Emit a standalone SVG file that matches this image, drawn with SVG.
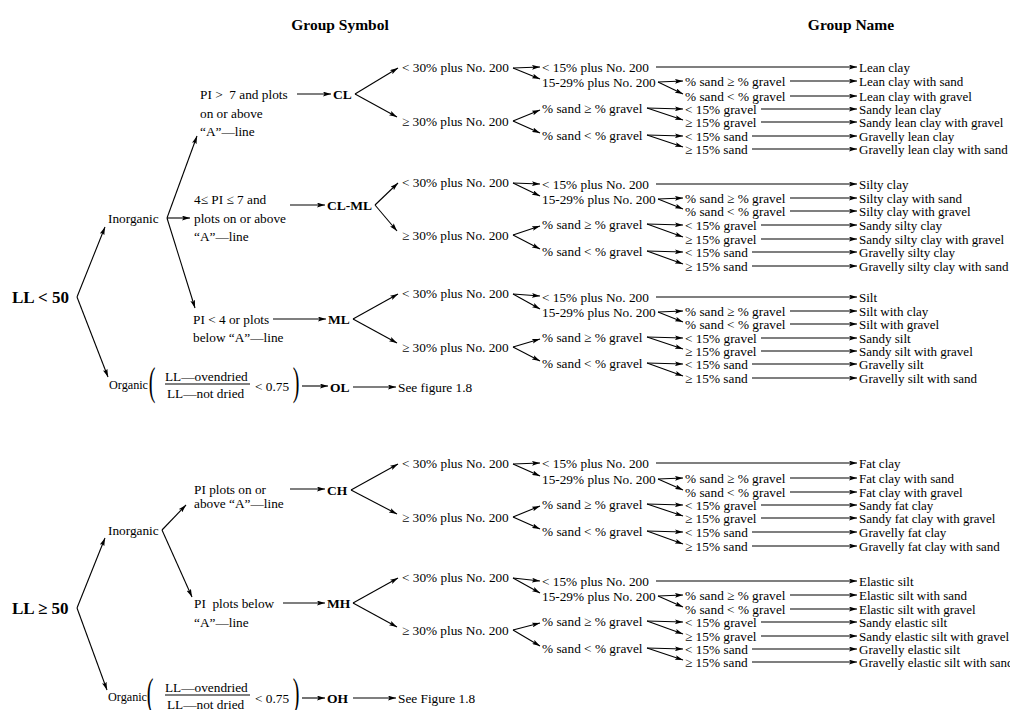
<svg xmlns="http://www.w3.org/2000/svg" width="1010" height="710" viewBox="0 0 1010 710">
<style>
text{font-family:"Liberation Serif","Times New Roman",serif;fill:#000}
.t{font-size:13.3px;dominant-baseline:central}
.n{font-size:13px;dominant-baseline:central}
.o{font-size:12.2px;dominant-baseline:central}
.b{font-size:13.5px;font-weight:bold;dominant-baseline:central}
.h{font-size:15.5px;font-weight:bold;dominant-baseline:central;text-anchor:middle}
.L{font-size:17px;font-weight:bold;dominant-baseline:central}
.p{font-size:40px;text-anchor:middle}
.c line{stroke:#000;stroke-width:1.1;fill:none;marker-end:url(#a)}
.bar{stroke:#000;stroke-width:1.1}
</style>
<defs>
<marker id="a" viewBox="0 0 10 6" refX="10" refY="3" markerWidth="8" markerHeight="5" markerUnits="userSpaceOnUse" orient="auto"><path d="M0,0 L10,3 L0,6 L2,3 z" fill="#000"/></marker>
</defs>
<rect width="1010" height="710" fill="#fff"/>

<g id="headers">
<text class="h" x="340" y="24">Group Symbol</text>
<text class="h" x="851" y="24">Group Name</text>
</g>

<!-- LL < 50 tree -->
<g id="ll-lt-50"><text class="L" x="12" y="297">LL &lt; 50</text></g>
<g id="inorganic-1"><text class="t" x="108" y="218">Inorganic</text></g>
<g id="cond-cl">
<text class="t" x="200" y="94">PI &gt;&#160; 7 and plots</text>
<text class="t" x="200" y="113">on or above</text>
<text class="t" x="200" y="131">“A”—line</text>
</g>
<g id="cond-clml">
<text class="t" x="194" y="199">4≤ PI ≤ 7 and</text>
<text class="t" x="194" y="218">plots on or above</text>
<text class="t" x="194" y="236">“A”—line</text>
</g>
<g id="cond-ml">
<text class="t" x="193" y="319">PI &lt; 4 or plots</text>
<text class="t" x="193" y="337">below “A”—line</text>
</g>
<g id="organic-1">
<text class="o" x="109" y="385">Organic</text>
<text class="p" transform="translate(152,395) scale(0.5,1)">(</text>
<text class="t" x="165" y="376">LL—ovendried</text>
<line class="bar" x1="165" y1="384" x2="250" y2="384"/>
<text class="t" x="167" y="393">LL—not dried</text>
<text class="t" x="255" y="386">&lt; 0.75</text>
<text class="p" transform="translate(296,395) scale(0.5,1)">)</text>
</g>
<g id="sym-cl"><text class="b" x="333" y="94">CL</text></g>
<g id="sym-clml"><text class="b" x="327" y="205">CL-ML</text></g>
<g id="sym-ml"><text class="b" x="328" y="319">ML</text></g>
<g id="sym-ol"><text class="b" x="330" y="387">OL</text></g>
<g id="see-ol"><text class="t" x="398" y="387">See figure 1.8</text></g>

<!-- LL >= 50 tree -->
<g id="ll-ge-50"><text class="L" x="12" y="608">LL ≥ 50</text></g>
<g id="inorganic-2"><text class="t" x="108" y="530">Inorganic</text></g>
<g id="cond-ch">
<text class="t" x="194" y="489">PI plots on or</text>
<text class="t" x="194" y="503">above “A”—line</text>
</g>
<g id="cond-mh">
<text class="t" x="194" y="603">PI&#160; plots below</text>
<text class="t" x="194" y="622">“A”—line</text>
</g>
<g id="organic-2">
<text class="o" x="108" y="697">Organic</text>
<text class="p" transform="translate(150,706) scale(0.5,1)">(</text>
<text class="t" x="165" y="687">LL—ovendried</text>
<line class="bar" x1="165" y1="695" x2="250" y2="695"/>
<text class="t" x="167" y="704">LL—not dried</text>
<text class="t" x="255" y="698">&lt; 0.75</text>
<text class="p" transform="translate(296,706) scale(0.5,1)">)</text>
</g>
<g id="sym-ch"><text class="b" x="327" y="490">CH</text></g>
<g id="sym-mh"><text class="b" x="327" y="603">MH</text></g>
<g id="sym-oh"><text class="b" x="327" y="698">OH</text></g>
<g id="see-oh"><text class="t" x="398" y="698">See Figure 1.8</text></g>

<!-- CL block -->
<g id="cl-fines">
<text class="t" x="402" y="67">&lt; 30% plus No. 200</text>
<text class="t" x="402" y="121">≥ 30% plus No. 200</text>
<text class="t" x="542" y="67">&lt; 15% plus No. 200</text>
<text class="t" x="542" y="82">15-29% plus No. 200</text>
<text class="t" x="542" y="108">% sand ≥ % gravel</text>
<text class="t" x="542" y="135">% sand &lt; % gravel</text>
<text class="t" x="685" y="81">% sand ≥ % gravel</text>
<text class="t" x="685" y="96">% sand &lt; % gravel</text>
<text class="t" x="685" y="109">&lt; 15% gravel</text>
<text class="t" x="685" y="122">≥ 15% gravel</text>
<text class="t" x="685" y="136">&lt; 15% sand</text>
<text class="t" x="685" y="149">≥ 15% sand</text>
</g>
<g id="cl-names">
<text class="n" x="859" y="67">Lean clay</text>
<text class="n" x="859" y="81">Lean clay with sand</text>
<text class="n" x="859" y="96">Lean clay with gravel</text>
<text class="n" x="859" y="109">Sandy lean clay</text>
<text class="n" x="859" y="122">Sandy lean clay with gravel</text>
<text class="n" x="859" y="136">Gravelly lean clay</text>
<text class="n" x="859" y="149">Gravelly lean clay with sand</text>
</g>

<!-- CL-ML block -->
<g id="clml-fines">
<text class="t" x="402" y="182">&lt; 30% plus No. 200</text>
<text class="t" x="402" y="235">≥ 30% plus No. 200</text>
<text class="t" x="542" y="184">&lt; 15% plus No. 200</text>
<text class="t" x="542" y="199">15-29% plus No. 200</text>
<text class="t" x="542" y="224">% sand ≥ % gravel</text>
<text class="t" x="542" y="251">% sand &lt; % gravel</text>
<text class="t" x="685" y="198">% sand ≥ % gravel</text>
<text class="t" x="685" y="211">% sand &lt; % gravel</text>
<text class="t" x="685" y="225">&lt; 15% gravel</text>
<text class="t" x="685" y="239">≥ 15% gravel</text>
<text class="t" x="685" y="252">&lt; 15% sand</text>
<text class="t" x="685" y="266">≥ 15% sand</text>
</g>
<g id="clml-names">
<text class="n" x="859" y="184">Silty clay</text>
<text class="n" x="859" y="198">Silty clay with sand</text>
<text class="n" x="859" y="211">Silty clay with gravel</text>
<text class="n" x="859" y="225">Sandy silty clay</text>
<text class="n" x="859" y="239">Sandy silty clay with gravel</text>
<text class="n" x="859" y="252">Gravelly silty clay</text>
<text class="n" x="859" y="266">Gravelly silty clay with sand</text>
</g>

<!-- ML block -->
<g id="ml-fines">
<text class="t" x="402" y="293">&lt; 30% plus No. 200</text>
<text class="t" x="402" y="347">≥ 30% plus No. 200</text>
<text class="t" x="542" y="297">&lt; 15% plus No. 200</text>
<text class="t" x="542" y="312">15-29% plus No. 200</text>
<text class="t" x="542" y="337">% sand ≥ % gravel</text>
<text class="t" x="542" y="363">% sand &lt; % gravel</text>
<text class="t" x="685" y="311">% sand ≥ % gravel</text>
<text class="t" x="685" y="324">% sand &lt; % gravel</text>
<text class="t" x="685" y="338">&lt; 15% gravel</text>
<text class="t" x="685" y="351">≥ 15% gravel</text>
<text class="t" x="685" y="364">&lt; 15% sand</text>
<text class="t" x="685" y="378">≥ 15% sand</text>
</g>
<g id="ml-names">
<text class="n" x="859" y="297">Silt</text>
<text class="n" x="859" y="311">Silt with clay</text>
<text class="n" x="859" y="324">Silt with gravel</text>
<text class="n" x="859" y="338">Sandy silt</text>
<text class="n" x="859" y="351">Sandy silt with gravel</text>
<text class="n" x="859" y="364">Gravelly silt</text>
<text class="n" x="859" y="378">Gravelly silt with sand</text>
</g>

<!-- CH block -->
<g id="ch-fines">
<text class="t" x="402" y="463">&lt; 30% plus No. 200</text>
<text class="t" x="402" y="517">≥ 30% plus No. 200</text>
<text class="t" x="542" y="463">&lt; 15% plus No. 200</text>
<text class="t" x="542" y="479">15-29% plus No. 200</text>
<text class="t" x="542" y="504">% sand ≥ % gravel</text>
<text class="t" x="542" y="531">% sand &lt; % gravel</text>
<text class="t" x="685" y="478">% sand ≥ % gravel</text>
<text class="t" x="685" y="492">% sand &lt; % gravel</text>
<text class="t" x="685" y="505">&lt; 15% gravel</text>
<text class="t" x="685" y="518">≥ 15% gravel</text>
<text class="t" x="685" y="532">&lt; 15% sand</text>
<text class="t" x="685" y="546">≥ 15% sand</text>
</g>
<g id="ch-names">
<text class="n" x="859" y="463">Fat clay</text>
<text class="n" x="859" y="478">Fat clay with sand</text>
<text class="n" x="859" y="492">Fat clay with gravel</text>
<text class="n" x="859" y="505">Sandy fat clay</text>
<text class="n" x="859" y="518">Sandy fat clay with gravel</text>
<text class="n" x="859" y="532">Gravelly fat clay</text>
<text class="n" x="859" y="546">Gravelly fat clay with sand</text>
</g>

<!-- MH block -->
<g id="mh-fines">
<text class="t" x="402" y="577">&lt; 30% plus No. 200</text>
<text class="t" x="402" y="630">≥ 30% plus No. 200</text>
<text class="t" x="542" y="581">&lt; 15% plus No. 200</text>
<text class="t" x="542" y="596">15-29% plus No. 200</text>
<text class="t" x="542" y="621">% sand ≥ % gravel</text>
<text class="t" x="542" y="648">% sand &lt; % gravel</text>
<text class="t" x="685" y="595">% sand ≥ % gravel</text>
<text class="t" x="685" y="609">% sand &lt; % gravel</text>
<text class="t" x="685" y="622">&lt; 15% gravel</text>
<text class="t" x="685" y="636">≥ 15% gravel</text>
<text class="t" x="685" y="649">&lt; 15% sand</text>
<text class="t" x="685" y="662">≥ 15% sand</text>
</g>
<g id="mh-names">
<text class="n" x="859" y="581">Elastic silt</text>
<text class="n" x="859" y="595">Elastic silt with sand</text>
<text class="n" x="859" y="609">Elastic silt with gravel</text>
<text class="n" x="859" y="622">Sandy elastic silt</text>
<text class="n" x="859" y="636">Sandy elastic silt with gravel</text>
<text class="n" x="859" y="649">Gravelly elastic silt</text>
<text class="n" x="859" y="662">Gravelly elastic silt with sand</text>
</g>

<g id="connectors" class="c">
<!-- left tree, LL<50 -->
<line x1="77" y1="297" x2="105" y2="227"/>
<line x1="77" y1="297" x2="108" y2="377"/>
<line x1="167" y1="218" x2="197" y2="136"/>
<line x1="167" y1="218" x2="190" y2="218"/>
<line x1="167" y1="218" x2="195" y2="308"/>
<line x1="302" y1="386" x2="328" y2="386"/>
<line x1="353" y1="387" x2="396" y2="387"/>
<!-- left tree, LL>=50 -->
<line x1="77" y1="608" x2="105" y2="538"/>
<line x1="77" y1="608" x2="107" y2="690"/>
<line x1="162" y1="530" x2="186" y2="505"/>
<line x1="162" y1="530" x2="192" y2="597"/>
<line x1="302" y1="698" x2="325" y2="698"/>
<line x1="353" y1="698" x2="396" y2="698"/>

<!-- CL -->
<line x1="297" y1="94" x2="331" y2="94"/>
<line x1="355" y1="94" x2="398" y2="68"/>
<line x1="355" y1="94" x2="397" y2="117"/>
<line x1="513" y1="68" x2="540" y2="67"/>
<line x1="513" y1="68" x2="540" y2="79"/>
<line x1="513" y1="121" x2="540" y2="110"/>
<line x1="513" y1="121" x2="540" y2="133"/>
<line x1="656" y1="67" x2="857" y2="67"/>
<line x1="658" y1="82" x2="683" y2="81"/>
<line x1="658" y1="82" x2="683" y2="94"/>
<line x1="647" y1="108" x2="683" y2="109"/>
<line x1="647" y1="108" x2="683" y2="120"/>
<line x1="647" y1="135" x2="683" y2="136"/>
<line x1="647" y1="135" x2="683" y2="147"/>
<line x1="790" y1="81" x2="857" y2="81"/>
<line x1="790" y1="96" x2="857" y2="96"/>
<line x1="761" y1="109" x2="857" y2="109"/>
<line x1="761" y1="122" x2="857" y2="122"/>
<line x1="752" y1="136" x2="857" y2="136"/>
<line x1="752" y1="149" x2="857" y2="149"/>

<!-- CL-ML -->
<line x1="290" y1="205" x2="325" y2="205"/>
<line x1="375" y1="205" x2="398" y2="183"/>
<line x1="375" y1="205" x2="397" y2="231"/>
<line x1="513" y1="183" x2="540" y2="184"/>
<line x1="513" y1="183" x2="540" y2="196"/>
<line x1="513" y1="235" x2="540" y2="226"/>
<line x1="513" y1="235" x2="540" y2="249"/>
<line x1="656" y1="184" x2="857" y2="184"/>
<line x1="658" y1="199" x2="683" y2="198"/>
<line x1="658" y1="199" x2="683" y2="209"/>
<line x1="647" y1="224" x2="683" y2="225"/>
<line x1="647" y1="224" x2="683" y2="237"/>
<line x1="647" y1="251" x2="683" y2="252"/>
<line x1="647" y1="251" x2="683" y2="264"/>
<line x1="790" y1="198" x2="857" y2="198"/>
<line x1="790" y1="211" x2="857" y2="211"/>
<line x1="761" y1="225" x2="857" y2="225"/>
<line x1="761" y1="239" x2="857" y2="239"/>
<line x1="752" y1="252" x2="857" y2="252"/>
<line x1="752" y1="266" x2="857" y2="266"/>

<!-- ML -->
<line x1="273" y1="319" x2="326" y2="319"/>
<line x1="353" y1="319" x2="398" y2="294"/>
<line x1="353" y1="319" x2="397" y2="343"/>
<line x1="513" y1="294" x2="540" y2="296"/>
<line x1="513" y1="294" x2="540" y2="309"/>
<line x1="513" y1="347" x2="540" y2="339"/>
<line x1="513" y1="347" x2="540" y2="361"/>
<line x1="656" y1="297" x2="857" y2="297"/>
<line x1="658" y1="312" x2="683" y2="311"/>
<line x1="658" y1="312" x2="683" y2="322"/>
<line x1="647" y1="337" x2="683" y2="338"/>
<line x1="647" y1="337" x2="683" y2="349"/>
<line x1="647" y1="363" x2="683" y2="364"/>
<line x1="647" y1="363" x2="683" y2="376"/>
<line x1="790" y1="311" x2="857" y2="311"/>
<line x1="790" y1="324" x2="857" y2="324"/>
<line x1="761" y1="338" x2="857" y2="338"/>
<line x1="761" y1="351" x2="857" y2="351"/>
<line x1="752" y1="364" x2="857" y2="364"/>
<line x1="752" y1="378" x2="857" y2="378"/>

<!-- CH -->
<line x1="290" y1="489" x2="325" y2="489"/>
<line x1="351" y1="490" x2="398" y2="464"/>
<line x1="351" y1="490" x2="397" y2="514"/>
<line x1="513" y1="464" x2="540" y2="463"/>
<line x1="513" y1="464" x2="540" y2="476"/>
<line x1="513" y1="517" x2="540" y2="506"/>
<line x1="513" y1="517" x2="540" y2="529"/>
<line x1="656" y1="463" x2="857" y2="463"/>
<line x1="658" y1="479" x2="683" y2="478"/>
<line x1="658" y1="479" x2="683" y2="490"/>
<line x1="647" y1="504" x2="683" y2="505"/>
<line x1="647" y1="504" x2="683" y2="516"/>
<line x1="647" y1="531" x2="683" y2="532"/>
<line x1="647" y1="531" x2="683" y2="544"/>
<line x1="790" y1="478" x2="857" y2="478"/>
<line x1="790" y1="492" x2="857" y2="492"/>
<line x1="761" y1="505" x2="857" y2="505"/>
<line x1="761" y1="518" x2="857" y2="518"/>
<line x1="752" y1="532" x2="857" y2="532"/>
<line x1="752" y1="546" x2="857" y2="546"/>

<!-- MH -->
<line x1="283" y1="603" x2="325" y2="603"/>
<line x1="353" y1="603" x2="398" y2="578"/>
<line x1="353" y1="603" x2="397" y2="627"/>
<line x1="513" y1="578" x2="540" y2="581"/>
<line x1="513" y1="578" x2="540" y2="593"/>
<line x1="513" y1="630" x2="540" y2="623"/>
<line x1="513" y1="630" x2="540" y2="646"/>
<line x1="656" y1="581" x2="857" y2="581"/>
<line x1="658" y1="596" x2="683" y2="595"/>
<line x1="658" y1="596" x2="683" y2="607"/>
<line x1="647" y1="621" x2="683" y2="622"/>
<line x1="647" y1="621" x2="683" y2="634"/>
<line x1="647" y1="648" x2="683" y2="649"/>
<line x1="647" y1="648" x2="683" y2="660"/>
<line x1="790" y1="595" x2="857" y2="595"/>
<line x1="790" y1="609" x2="857" y2="609"/>
<line x1="761" y1="622" x2="857" y2="622"/>
<line x1="761" y1="636" x2="857" y2="636"/>
<line x1="752" y1="649" x2="857" y2="649"/>
<line x1="752" y1="662" x2="857" y2="662"/>
</g>
</svg>
